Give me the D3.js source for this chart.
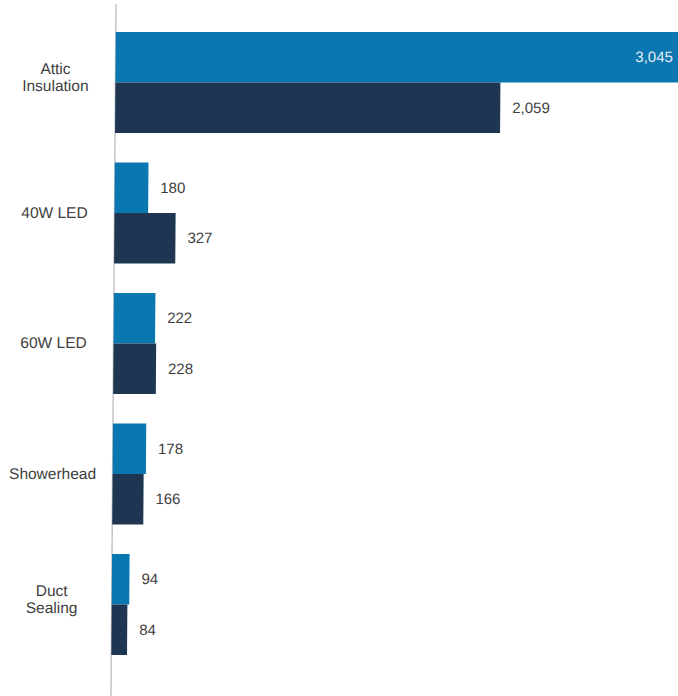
<!DOCTYPE html>
<html>
<head>
<meta charset="utf-8">
<script src="https://cdn.jsdelivr.net/npm/d3@7"></script>
<style>
  body { margin: 0; background: #fff; }
  svg { display: block; }
</style>
</head>
<body>
<svg id="chart"></svg>
<script>
// chart values
var categories = ["Attic Insulation", "40W LED", "60W LED", "Showerhead", "Duct Sealing"];
var seriesKeys = ["first", "second"];
var firstValues = [3045, 180, 222, 178, 94];
var secondValues = [2059, 327, 228, 166, 84];

var width = 678,
    height = 696;
var axisX = 116;
var colors = {first: "#0a77b0", second: "#1e3651"};

var svg = d3.select("#chart")
    .attr("width", width)
    .attr("height", height);

// the source is a slightly skewed scan, so lean the whole plot a touch
var plot = svg.append("g")
    .attr("transform", "skewX(-0.41)");

var x = d3.scaleLinear()
    .domain([0, 2059])
    .range([axisX, 501]);

var y = d3.scaleBand()
    .domain(categories)
    .range([32, 655])
    .paddingInner(0.226)
    .paddingOuter(0);

var yInner = d3.scaleBand()
    .domain(seriesKeys)
    .range([0, y.bandwidth()]);

var rows = categories.map(function(c, i) {
    return {cat: c, values: [
        {key: "first", value: firstValues[i]},
        {key: "second", value: secondValues[i]}
    ]};
});

var fmt = d3.format(",");

// axis line
plot.append("line")
    .attr("x1", axisX).attr("x2", axisX)
    .attr("y1", 4).attr("y2", height)
    .style("stroke", "#c4c4c4")
    .style("stroke-width", 1.5);

var groups = plot.selectAll("g.group")
    .data(rows)
    .enter()
    .append("g")
    .attr("class", "group")
    .attr("transform", function(d) { return "translate(0," + y(d.cat) + ")"; });

groups.selectAll("rect")
    .data(function(d) { return d.values; })
    .enter()
    .append("rect")
    .attr("x", x(0))
    .attr("y", function(d) { return yInner(d.key); })
    .attr("width", function(d) { return x(d.value) - x(0); })
    .attr("height", yInner.bandwidth())
    .style("fill", function(d) { return colors[d.key]; });

groups.selectAll("text.value")
    .data(function(d) { return d.values; })
    .enter()
    .append("text")
    .attr("class", "value")
    .attr("x", function(d) {
        // label goes inside the bar when it runs off the edge
        return x(d.value) > width - 60 ? x(d.value) - 12 : x(d.value) + 12;
    })
    .attr("y", function(d) { return yInner(d.key) + yInner.bandwidth() / 2; })
    .attr("dy", "0.35em")
    .attr("text-anchor", function(d) { return x(d.value) > width - 60 ? "end" : "start"; })
    .style("font-family", "'Liberation Sans', Arial, sans-serif")
    .style("font-size", "15px")
    .style("fill", function(d) { return x(d.value) > width - 60 ? "#e6eef5" : "#404040"; })
    .text(function(d) { return fmt(d.value); });

// category labels, wrapped on spaces for the long ones
groups.append("text")
    .attr("class", "cat")
    .attr("x", 56)
    .attr("y", y.bandwidth() / 2)
    .attr("text-anchor", "middle")
    .style("font-family", "'Liberation Sans', Arial, sans-serif")
    .style("font-size", "15.5px")
    .style("fill", "#404040")
    .each(function(d) {
        var words = d.cat.indexOf("LED") >= 0 || d.cat == "Showerhead" ? [d.cat] : d.cat.split(" ");
        var t = d3.select(this);
        var lh = 17;
        var start = -(words.length - 1) * lh / 2 - (words.length > 1 ? 4.5 : 0);
        words.forEach(function(w, i) {
            t.append("tspan")
                .attr("x", 56)
                .attr("dy", i == 0 ? (start + 5) + "px" : lh + "px")
                .text(w);
        });
    });
</script>
</body>
</html>
